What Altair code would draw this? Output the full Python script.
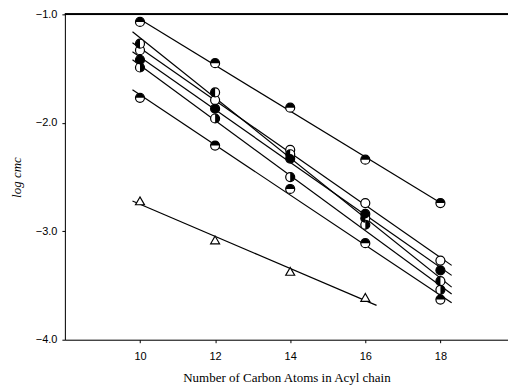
import altair as alt
import pandas as pd

carbons = [10, 12, 14, 16, 18]
tri_carbons = [10, 12, 14, 16]

s1 = [-1.07, -1.45, -1.86, -2.34, -2.74]   # top half dark
s2 = [-1.33, -1.79, -2.25, -2.74, -3.27]   # open
s3 = [-1.42, -1.87, -2.33, -2.84, -3.36]   # filled
s4 = [-1.27, -1.72, -2.29, -2.88, -3.46]   # left half dark
s5 = [-1.49, -1.96, -2.50, -2.94, -3.54]   # right half dark
s6 = [-1.77, -2.21, -2.61, -3.11, -3.63]   # top half dark
tri = [-2.72, -3.08, -3.37, -3.61]         # open triangles

series = {"S1": s1, "S2": s2, "S3": s3, "S4": s4, "S5": s5, "S6": s6}
fills = {
    "S1": "M -1 0 A 1 1 0 0 1 1 0 Z",
    "S3": "circle",
    "S4": "M 0 -1 A 1 1 0 0 0 0 1 Z",
    "S5": "M 0 -1 A 1 1 0 0 1 0 1 Z",
    "S6": "M -1 0 A 1 1 0 0 1 1 0 Z",
}

rows = []
for name, vals in series.items():
    for c, v in zip(carbons, vals):
        rows.append({"series": name, "c": c, "v": v})
circ = pd.DataFrame(rows)
tri_df = pd.DataFrame({"series": "T", "c": tri_carbons, "v": tri})

W, H = 444, 326
xs = alt.Scale(domain=[8, 19.8], nice=False, zero=False)
ys = alt.Scale(domain=[-4, -1], nice=False, zero=False)
serif = "Liberation Serif"
sans = "Liberation Sans"

X = alt.X("c:Q", scale=xs,
          axis=alt.Axis(values=[10, 12, 14, 16, 18], title="Number of Carbon Atoms in Acyl chain",
                        grid=False, tickSize=3, labelFont=sans, labelFontSize=11, labelPadding=8,
                        titleFont=serif, titleFontSize=13, titleFontWeight="normal", titlePadding=10,
                        domainColor="black", tickColor="black", labelColor="black", titleColor="black"))
Y = alt.Y("v:Q", scale=ys,
          axis=alt.Axis(values=[-1, -2, -3, -4], format=".1f", title="log cmc", grid=False,
                        tickSize=3, labelFont=sans, labelFontSize=11, labelPadding=5,
                        titleFont=serif, titleFontSize=13, titleFontStyle="italic",
                        titleFontWeight="normal", titlePadding=12,
                        domainColor="black", tickColor="black", labelColor="black", titleColor="black"))

base_c = alt.Chart(circ)

lines_main = base_c.transform_filter(alt.datum.series != "S1").transform_regression(
    "c", "v", groupby=["series"], extent=[9.8, 18.3]
).mark_line(color="black", strokeWidth=1.2).encode(x=X, y=Y, detail="series:N")

line_top = base_c.transform_filter(alt.datum.series == "S1").transform_regression(
    "c", "v", extent=[10, 18]
).mark_line(color="black", strokeWidth=1.2).encode(x=X, y=Y)

line_tri = alt.Chart(tri_df).transform_regression(
    "c", "v", extent=[9.8, 16.3]
).mark_line(color="black", strokeWidth=1.2).encode(x=X, y=Y)

pts_open = base_c.mark_point(shape="circle", filled=True, fill="white", stroke="black",
                             strokeWidth=1.2, size=81, opacity=1).encode(x=X, y=Y)

fill_names = list(fills.keys())
pts_fill = base_c.transform_filter(
    alt.FieldOneOfPredicate(field="series", oneOf=fill_names)
).mark_point(filled=True, fill="black", strokeWidth=0, size=81, opacity=1).encode(
    x=X, y=Y,
    shape=alt.Shape("series:N", scale=alt.Scale(domain=fill_names, range=[fills[n] for n in fill_names]),
                    legend=None),
)

pts_tri = alt.Chart(tri_df).mark_point(shape="triangle-up", filled=True, fill="white", stroke="black",
                                       strokeWidth=1.2, size=80, opacity=1).encode(x=X, y=Y)

top_rule = alt.Chart(tri_df).mark_rule(color="black", strokeWidth=1.5).encode(
    x=alt.value(0), x2=alt.value(W), y=alt.value(0))

chart = alt.layer(top_rule, lines_main, line_top, line_tri, pts_open, pts_fill, pts_tri).properties(
    width=W, height=H,
    autosize=alt.AutoSizeParams(type="none"),
    padding={"left": 57, "top": 6, "right": 0, "bottom": 46},
).configure_view(stroke=None).configure(background="white")

chart.save("out.html", embed_options={"renderer": "svg", "actions": False})
